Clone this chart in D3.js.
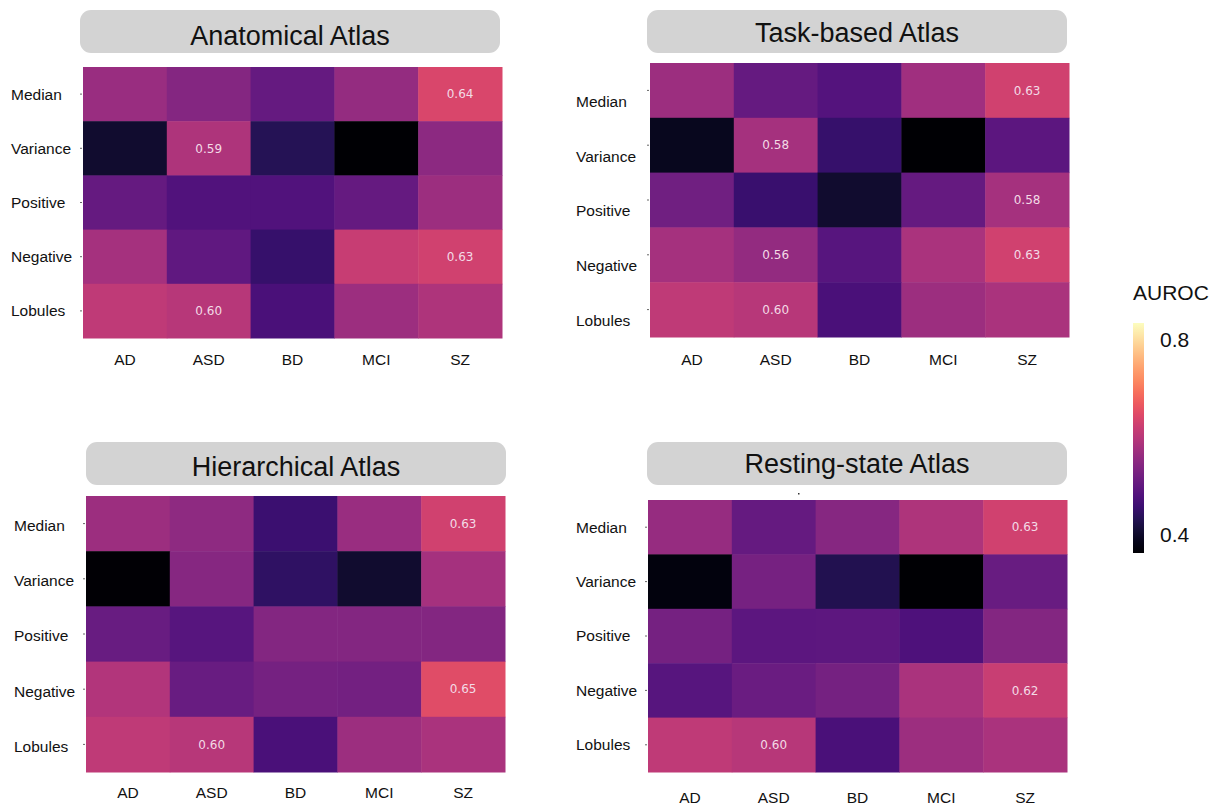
<!DOCTYPE html>
<html><head><meta charset="utf-8">
<script src="https://cdn.jsdelivr.net/npm/d3@7"></script>
<style>body{margin:0;background:#fff;}svg{display:block;}</style>
</head><body>
<svg id="c" width="1218" height="806"></svg>
<script>
const diseases = ["AD","ASD","BD","MCI","SZ"];
const metrics = ["Median","Variance","Positive","Negative","Lobules"];
const atlasTitles = ["Anatomical Atlas","Task-based Atlas","Hierarchical Atlas","Resting-state Atlas"];
// rows = metrics, cols = diseases
const anatomicalValues = [
  [0.566,0.542,0.505,0.561,0.64],
  [0.405,0.59,0.434,0.363,0.552],
  [0.505,0.481,0.481,0.505,0.570],
  [0.580,0.500,0.453,0.618,0.63],
  [0.610,0.60,0.474,0.571,0.590]
];
const taskValues = [
  [0.571,0.505,0.486,0.575,0.63],
  [0.390,0.58,0.453,0.363,0.495],
  [0.519,0.457,0.405,0.505,0.58],
  [0.580,0.56,0.490,0.585,0.63],
  [0.610,0.60,0.474,0.570,0.585]
];
const hierarchicalValues = [
  [0.570,0.553,0.458,0.566,0.63],
  [0.365,0.545,0.445,0.405,0.580],
  [0.510,0.490,0.540,0.540,0.540],
  [0.595,0.510,0.525,0.522,0.65],
  [0.610,0.60,0.474,0.570,0.585]
];
const restingValues = [
  [0.563,0.505,0.545,0.590,0.63],
  [0.375,0.527,0.430,0.363,0.510],
  [0.525,0.495,0.497,0.478,0.540],
  [0.490,0.512,0.525,0.585,0.62],
  [0.610,0.60,0.474,0.570,0.585]
];
// annotated cells [row, col]
const anatomicalAnnot = [[0,4],[1,1],[3,4],[4,1]];
const taskAnnot = [[0,4],[1,1],[2,4],[3,1],[3,4],[4,1]];
const hierarchicalAnnot = [[0,4],[3,4],[4,1]];
const restingAnnot = [[0,4],[3,4],[4,1]];
const colorTicks = [0.4, 0.8];
const colorDomain = [0.363, 0.835];
const colorbarTitle = "AUROC";

const svg = d3.select("#c");
const color = d3.scaleSequential(d3.interpolateMagma).domain(colorDomain);

const panels = [
  {title:atlasTitles[0], values:anatomicalValues, annot:anatomicalAnnot,
   box:[80,10,500,53], tBase:45, hm:[83,67,502,338], ylx:11, ydy:0, xly:360},
  {title:atlasTitles[1], values:taskValues, annot:taskAnnot,
   box:[647,10,1067,53], tBase:42, hm:[650,63,1069,337], ylx:576, ydy:11, xly:360},
  {title:atlasTitles[2], values:hierarchicalValues, annot:hierarchicalAnnot,
   box:[86,442,506,485], tBase:476, hm:[86,496,505,772], ylx:14, ydy:2, xly:793},
  {title:atlasTitles[3], values:restingValues, annot:restingAnnot,
   box:[647,442,1067,485], tBase:473, hm:[648,500,1067,772], ylx:576, ydy:0, xly:798}
];

panels.forEach(p => {
  const g = svg.append("g");
  g.append("rect").attr("x",p.box[0]).attr("y",p.box[1])
    .attr("width",p.box[2]-p.box[0]).attr("height",p.box[3]-p.box[1])
    .attr("rx",11).attr("fill","#d3d3d3");
  g.append("text").attr("x",(p.box[0]+p.box[2])/2).attr("y",p.tBase)
    .attr("text-anchor","middle").attr("font-family","Liberation Sans, Arial, sans-serif")
    .attr("font-size",27).attr("fill","#111").text(p.title);

  const x = d3.scaleBand().domain(diseases).range([p.hm[0],p.hm[2]]);
  const y = d3.scaleBand().domain(metrics).range([p.hm[1],p.hm[3]]);
  const cells = [];
  metrics.forEach((m,i)=>diseases.forEach((d,j)=>cells.push({m,d,v:p.values[i][j]})));
  g.selectAll("rect.cell").data(cells).join("rect").attr("class","cell")
    .attr("x",c=>x(c.d)).attr("y",c=>y(c.m))
    .attr("width",x.bandwidth()+0.5).attr("height",y.bandwidth()+0.5)
    .attr("fill",c=>color(c.v));
  g.selectAll("text.ann").data(p.annot).join("text").attr("class","ann")
    .attr("x",a=>x(diseases[a[1]])+x.bandwidth()/2)
    .attr("y",a=>y(metrics[a[0]])+y.bandwidth()/2)
    .attr("dy","0.35em").attr("text-anchor","middle")
    .attr("font-family","DejaVu Sans, sans-serif").attr("font-size",12)
    .attr("fill","#f3dbe6").text(a=>p.values[a[0]][a[1]].toFixed(2));
  // y ticks
  g.selectAll("line.yt").data(metrics).join("line").attr("class","yt")
    .attr("x1",p.hm[0]-3).attr("x2",p.hm[0]-1)
    .attr("y1",m=>y(m)+y.bandwidth()/2).attr("y2",m=>y(m)+y.bandwidth()/2)
    .attr("stroke","#666").attr("stroke-width",1);
  g.selectAll("text.yl").data(metrics).join("text").attr("class","yl")
    .attr("x",p.ylx).attr("y",m=>y(m)+y.bandwidth()/2+p.ydy).attr("dy","0.35em")
    .attr("font-family","Liberation Sans, Arial, sans-serif").attr("font-size",15.5)
    .attr("fill","#111").text(m=>m);
  g.selectAll("text.xl").data(diseases).join("text").attr("class","xl")
    .attr("x",d=>x(d)+x.bandwidth()/2).attr("y",p.xly).attr("dy","0.35em")
    .attr("text-anchor","middle")
    .attr("font-family","Liberation Sans, Arial, sans-serif").attr("font-size",15.5)
    .attr("fill","#111").text(d=>d);
});

// stray dot above resting-state heatmap
svg.append("rect").attr("x",798).attr("y",493).attr("width",1.5).attr("height",1.5).attr("fill","#333");

// colorbar
const cbTop = 323, cbBot = 553, cbX = 1133, cbW = 11;
const defs = svg.append("defs");
const grad = defs.append("linearGradient").attr("id","cbg")
  .attr("x1","0").attr("y1","1").attr("x2","0").attr("y2","0");
d3.range(0,1.0001,0.05).forEach(t=>grad.append("stop")
  .attr("offset",t).attr("stop-color",d3.interpolateMagma(t)));
svg.append("rect").attr("x",cbX).attr("y",cbTop).attr("width",cbW)
  .attr("height",cbBot-cbTop).attr("fill","url(#cbg)");
const cy = d3.scaleLinear().domain(colorDomain).range([cbBot,cbTop]);
svg.selectAll("text.ct").data(colorTicks).join("text").attr("class","ct")
  .attr("x",1160).attr("y",v=>cy(v)).attr("dy","0.35em")
  .attr("font-family","Liberation Sans, Arial, sans-serif").attr("font-size",21)
  .attr("fill","#111").text(v=>v.toFixed(1));
svg.append("text").attr("x",1133).attr("y",293).attr("dy","0.35em")
  .attr("font-family","Liberation Sans, Arial, sans-serif").attr("font-size",21)
  .attr("fill","#111").text(colorbarTitle);
</script>
</body></html>
